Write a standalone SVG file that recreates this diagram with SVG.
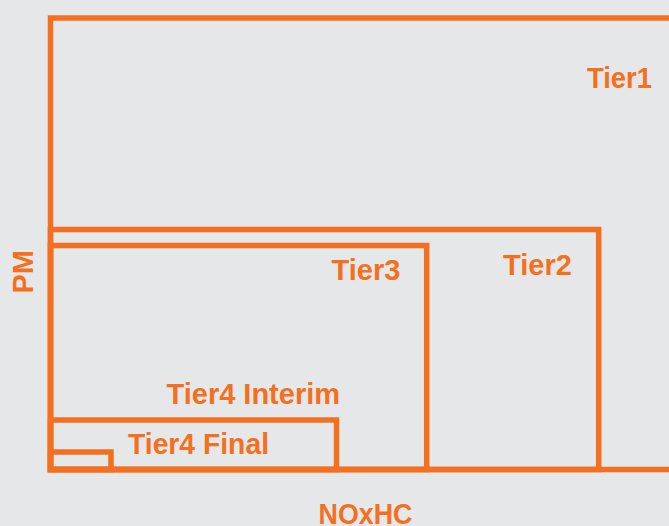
<svg xmlns="http://www.w3.org/2000/svg" width="669" height="526" viewBox="0 0 669 526">
<style>
.box{fill:none;stroke:#f37021;stroke-width:5.5;}
.lbl{font-family:"Liberation Sans",Arial,sans-serif;font-weight:bold;font-size:29px;fill:#f37021;}
</style>
<rect x="0" y="0" width="669" height="526" fill="#e6e7e8"/>
<g id="tier1">
<rect class="box" x="50.5" y="18" width="700" height="451.5"/>
<text class="lbl" x="587" y="88" textLength="65" lengthAdjust="spacingAndGlyphs">Tier1</text>
</g>
<g id="tier2">
<rect class="box" x="50.5" y="229.5" width="548.2" height="240"/>
<text class="lbl" x="503" y="275">Tier2</text>
</g>
<g id="tier3">
<rect class="box" x="50.5" y="245.5" width="376.2" height="224"/>
<text class="lbl" x="331.5" y="280">Tier3</text>
</g>
<g id="tier4-interim">
<rect class="box" x="50.5" y="420" width="286" height="49.5"/>
<text class="lbl" x="166.5" y="403.5">Tier4 Interim</text>
</g>
<g id="tier4-final">
<rect class="box" x="50.5" y="452" width="60.5" height="17.5"/>
<text class="lbl" x="128" y="453.5" textLength="141" lengthAdjust="spacingAndGlyphs">Tier4 Final</text>
</g>
<g id="axes">
<text class="lbl" x="318.5" y="524" textLength="94" lengthAdjust="spacingAndGlyphs">NOxHC</text>
<text class="lbl" transform="translate(32.5,293.5) rotate(-90)">PM</text>
</g>
<g id="connectors"></g>
</svg>
